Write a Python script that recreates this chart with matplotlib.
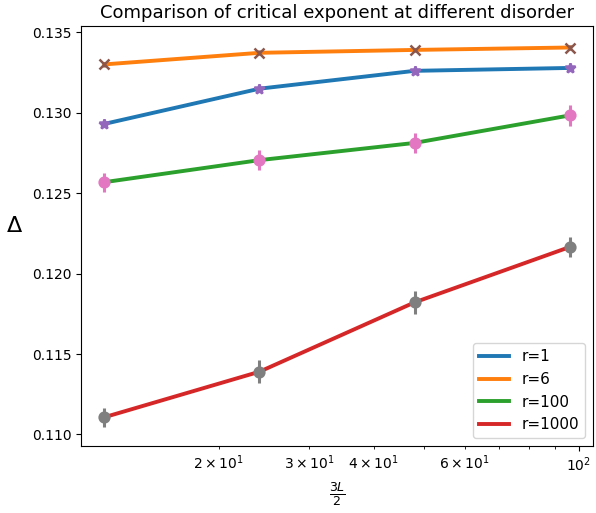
import numpy as np
import matplotlib
matplotlib.use("Agg")
import matplotlib.pyplot as plt

# system sizes (3L/2)
x = np.array([12, 24, 48, 96])

labels = ['r=1', 'r=6', 'r=100', 'r=1000']
delta_r1 = [0.1293, 0.13149, 0.13260, 0.13278]
delta_r6 = [0.13300, 0.13372, 0.13390, 0.13405]
delta_r100 = [0.12568, 0.12705, 0.12812, 0.12983]
delta_r1000 = [0.11107, 0.11390, 0.11821, 0.12165]

err_r1 = [0.00008, 0.00008, 0.00008, 0.00008]
err_r6 = [0.00015, 0.00015, 0.00015, 0.00015]
err_r100 = [0.0006, 0.0006, 0.0006, 0.00065]
err_r1000 = [0.0006, 0.0007, 0.0007, 0.0006]

fig = plt.figure(figsize=(5.96, 5.13), dpi=100)
ax = fig.add_axes([81/596, 1-446/513, (593-81)/596, (446-26)/513])

series = [delta_r1, delta_r6, delta_r100, delta_r1000]
errs = [err_r1, err_r6, err_r100, err_r1000]
marks = ['*', 'x', 'o', 'o']

for y, lab in zip(series, labels):
    ax.plot(x, y, lw=2.8, label=lab)

for y, e, m in zip(series, errs, marks):
    ax.errorbar(x, y, yerr=e, fmt=m, ms=7, elinewidth=2.2, mew=1.8)

ax.set_xscale('log')
ax.set_title('Comparison of critical exponent at different disorder', fontsize=13)
ax.set_xlabel(r'$\frac{3L}{2}$', fontsize=13)
ax.set_ylabel(r'$\Delta$', rotation=0, fontsize=16, labelpad=12)

h, l = ax.get_legend_handles_labels()
ax.legend(h[:4], l[:4], loc='lower right', fontsize=11)

fig.savefig('out.png', dpi=100)
